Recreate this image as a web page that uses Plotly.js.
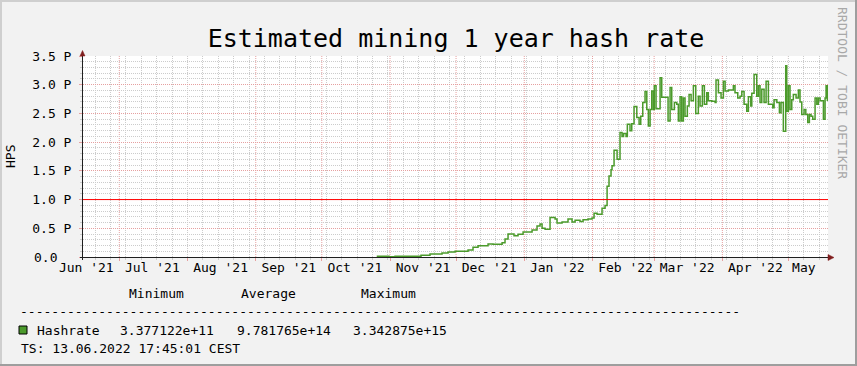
<!DOCTYPE html>
<html><head><meta charset="utf-8">
<script src="https://cdn.plot.ly/plotly-3.0.1.min.js"></script>
<style>html,body{margin:0;padding:0;background:#f2f2f2;}#chart{width:857px;height:366px;}</style>
</head><body><div id="chart"></div>
<script>
const chartTitle = "Estimated mining 1 year hash rate";
const yAxisLabel = "HPS";
// step start times and hash rate (in peta hashes per second)
const sampleTimes = [
"2021-10-25 23:00","2021-10-31 13:00","2021-11-03 07:00","2021-11-15 02:00","2021-11-19 04:00","2021-11-24 15:00",
"2021-11-27 09:00","2021-11-30 13:00","2021-12-06 11:00","2021-12-08 17:00","2021-12-11 00:00","2021-12-15 13:00",
"2021-12-17 19:00","2021-12-21 22:00","2021-12-23 06:00","2021-12-24 15:00","2021-12-27 08:00","2021-12-29 04:00",
"2021-12-31 11:00","2022-01-04 13:00","2022-01-06 19:00","2022-01-08 04:00","2022-01-09 02:00","2022-01-10 11:00",
"2022-01-12 17:00","2022-01-15 00:00","2022-01-15 21:00","2022-01-18 04:00","2022-01-20 21:00","2022-01-22 17:00",
"2022-01-24 02:00","2022-01-26 08:00","2022-01-27 17:00","2022-01-29 23:00","2022-01-31 19:00","2022-02-01 17:00",
"2022-02-03 02:00","2022-02-05 08:00","2022-02-06 17:00","2022-02-07 15:00","2022-02-08 12:00","2022-02-09 10:00",
"2022-02-09 21:00","2022-02-10 19:00","2022-02-12 04:00","2022-02-13 12:00","2022-02-14 10:00","2022-02-15 03:00",
"2022-02-16 06:00","2022-02-16 20:00","2022-02-18 01:00","2022-02-18 20:00","2022-02-19 21:00","2022-02-21 03:00",
"2022-02-22 04:00","2022-02-22 22:00","2022-02-23 20:00","2022-02-24 21:00","2022-02-25 16:00","2022-02-26 09:00",
"2022-02-27 04:00","2022-02-27 22:00","2022-02-28 16:00","2022-03-01 02:00","2022-03-01 21:00","2022-03-03 17:00",
"2022-03-04 11:00","2022-03-07 08:00","2022-03-08 06:00","2022-03-09 00:00","2022-03-10 05:00","2022-03-11 07:00",
"2022-03-12 00:00","2022-03-12 19:00","2022-03-13 13:00","2022-03-14 07:00","2022-03-15 01:00","2022-03-16 02:00",
"2022-03-16 21:00","2022-03-17 19:00","2022-03-18 20:00","2022-03-19 22:00","2022-03-21 02:00","2022-03-21 21:00",
"2022-03-22 22:00","2022-03-23 20:00","2022-03-24 22:00","2022-03-25 15:00","2022-03-27 05:00","2022-03-28 17:00",
"2022-03-29 03:00","2022-03-30 05:00","2022-03-31 10:00","2022-04-01 11:00","2022-04-02 06:00","2022-04-03 18:00",
"2022-04-06 00:00","2022-04-06 18:00","2022-04-08 00:00","2022-04-09 01:00","2022-04-09 20:00","2022-04-10 21:00",
"2022-04-12 02:00","2022-04-12 20:00","2022-04-13 22:00","2022-04-14 09:00","2022-04-15 10:00","2022-04-16 15:00",
"2022-04-17 09:00","2022-04-18 03:00","2022-04-18 22:00","2022-04-19 23:00","2022-04-20 21:00","2022-04-21 22:00",
"2022-04-23 22:00","2022-04-24 12:00","2022-04-25 18:00","2022-04-26 22:00","2022-04-27 16:00","2022-04-28 17:00",
"2022-04-29 19:00","2022-04-30 06:00","2022-05-01 00:00","2022-05-01 18:00","2022-05-02 13:00","2022-05-03 06:00",
"2022-05-04 12:00","2022-05-05 13:00","2022-05-06 07:00","2022-05-07 02:00","2022-05-08 03:00","2022-05-08 22:00",
"2022-05-09 19:00","2022-05-10 13:00","2022-05-11 07:00","2022-05-12 02:00","2022-05-13 03:00","2022-05-13 22:00",
"2022-05-14 15:00","2022-05-15 10:00","2022-05-16 22:00","2022-05-17 16:00","2022-05-18 03:00","2022-05-18 17:00",
"2022-05-19 00:00"];
const hashrateP = [
0.012,0.003,0.012,0.030,0.052,0.070,
0.087,0.100,0.122,0.170,0.197,0.227,
0.222,0.250,0.314,0.401,0.372,0.396,
0.436,0.471,0.541,0.576,0.500,0.484,
0.688,0.660,0.590,0.610,0.663,0.610,
0.640,0.620,0.650,0.663,0.680,0.760,
0.745,0.850,0.895,1.230,1.410,1.520,
1.590,1.860,1.700,2.170,2.100,2.150,
2.100,2.310,2.200,2.320,2.620,2.430,
2.310,2.450,2.690,2.880,2.570,2.280,
2.570,2.890,2.570,2.980,2.580,3.120,
2.780,2.370,2.950,2.570,2.690,2.660,
2.370,2.790,2.370,2.770,2.450,2.630,
2.830,2.720,2.980,2.500,2.800,2.630,
2.980,2.660,2.860,2.720,2.710,2.690,
3.080,2.860,2.770,3.060,2.890,2.910,
2.980,2.860,2.770,2.800,2.880,2.660,
2.540,2.790,2.630,2.850,3.180,2.800,
2.980,2.690,2.920,2.690,3.060,2.660,
2.600,2.740,2.690,2.510,2.690,2.190,
3.330,2.540,2.980,2.570,2.740,2.830,
2.770,2.910,2.700,2.480,2.570,2.480,
2.340,2.480,2.450,2.400,2.770,2.660,
2.770,2.720,2.400,2.770,2.980,2.730,
2.730];
const xRange = ["2021-06-14 12:00", "2022-05-19 00:00"];
const monthGridDates = ["2021-07-01","2021-08-01","2021-09-01","2021-10-01","2021-11-01","2021-12-01",
  "2022-01-01","2022-02-01","2022-03-01","2022-04-01","2022-05-01"];
const weekGridStart = "2021-06-20";
const monthLabelDates = ["2021-06-16","2021-07-16","2021-08-16","2021-09-16","2021-10-16","2021-11-16",
  "2021-12-16","2022-01-16","2022-02-16","2022-03-16","2022-04-16","2022-05-08"];
const monthLabels = ["Jun '21","Jul '21","Aug '21","Sep '21","Oct '21","Nov '21",
  "Dec '21","Jan '22","Feb '22","Mar '22","Apr '22","May"];
const yTickVals = [0, 0.5, 1.0, 1.5, 2.0, 2.5, 3.0, 3.5];
const yTickText = ["0.0", "0.5 P", "1.0 P", "1.5 P", "2.0 P", "2.5 P", "3.0 P", "3.5 P"];
const yMinorStep = 0.1;
const hruleValue = 1.0;
const legendHeaders = ["Minimum", "Average", "Maximum"];
const seriesName = "Hashrate";
const legendStats = ["3.377122e+11", "9.781765e+14", "3.342875e+15"];
const timestampText = "TS: 13.06.2022 17:45:01 CEST";
const watermarkText = "RRDTOOL / TOBI OETIKER";

// weekly minor grid positions (every 7 days)
const weekGridDates = [];
for (let t = Date.parse(weekGridStart + "T00:00:00Z"); t < Date.parse("2022-05-19T00:00:00Z"); t += 7 * 86400000) {
  weekGridDates.push(new Date(t).toISOString().slice(0, 10));
}

// ---- geometry (pixels) ----
const CW = 857, CH = 366, PL = 83, PR = 828, PT = 56, PB = 257;
const px = p => (p - PL) / (PR - PL);
const py = p => (PB - p) / (PB - PT);
const FONT = "DejaVu Sans Mono";
const GREEN = "#4b9a2b";
const MGRID = "#e6a0a0";
const GRID = "#cccccc";

const traces = [
  {x: sampleTimes, y: hashrateP, type: "scatter", mode: "lines",
   line: {shape: "hv", color: GREEN, width: 1.5}, hoverinfo: "skip", showlegend: false},
  {x: [xRange[0]], y: [null], xaxis: "x3", type: "scatter", mode: "lines", hoverinfo: "skip", showlegend: false},
  {x: [xRange[0]], y: [null], xaxis: "x2", type: "scatter", mode: "lines", hoverinfo: "skip", showlegend: false}
];

function rectPx(x0, y0, x1, y1, color) {
  return {type: "rect", xref: "paper", yref: "paper", x0: px(x0), x1: px(x1), y0: py(y0), y1: py(y1),
          fillcolor: color, line: {width: 0}, layer: "above"};
}
function linePx(x0, y0, x1, y1, color, w) {
  return {type: "line", xref: "paper", yref: "paper", x0: px(x0), x1: px(x1), y0: py(y0), y1: py(y1),
          line: {color: color, width: w}, layer: "above"};
}
function pathPx(pts, color) {
  const d = pts.map((p, i) => (i ? "L" : "M") + px(p[0]) + "," + py(p[1])).join(" ") + " Z";
  return {type: "path", xref: "paper", yref: "paper", path: d, fillcolor: color, line: {color: color, width: 0.5}, layer: "above"};
}

// month (major) vertical grid lines, dotted, below the data line
const monthGridShapes = monthGridDates.map(d => ({
  type: "line", xref: "x", x0: d, x1: d, yref: "paper", y0: 0, y1: 1,
  line: {color: MGRID, width: 1, dash: "1px,1px"}, layer: "below"
}));

const shapes = monthGridShapes.concat([
  {type: "line", xref: "paper", x0: 0, x1: 1, yref: "y", y0: hruleValue, y1: hruleValue,
   line: {color: "#ff0000", width: 1}, layer: "above"},
  // axes
  linePx(80, 257.5, 829, 257.5, "#1f1f1f", 1),
  linePx(82.5, 260, 82.5, 55, "#1f1f1f", 1),
  pathPx([[828, 254.5], [834, 257.5], [828, 260.5]], "#801f1f"),
  pathPx([[80, 56], [82.5, 50.5], [85, 56]], "#801f1f"),
  // frame
  rectPx(0, 0, CW, 2, "#cfcfcf"),
  rectPx(0, 0, 2, CH, "#cfcfcf"),
  rectPx(0, CH - 2, CW, CH, "#9e9e9e"),
  rectPx(CW - 2, 0, CW, CH, "#9e9e9e"),
  // legend colour box
  {type: "rect", xref: "paper", yref: "paper", x0: px(19), x1: px(27), y0: py(326), y1: py(334),
   fillcolor: GREEN, line: {color: "#000", width: 1}, layer: "above"}
]);

function ann(text, x, y, opts) {
  return Object.assign({text: text, xref: "paper", yref: "paper", x: px(x), y: py(y), showarrow: false,
    xanchor: "left", yanchor: "middle", borderpad: 0, font: {family: FONT, size: 13, color: "#000"}}, opts || {});
}
const annotations = [
  ann(yTickText[0], 32.5, 257),
  ann(yAxisLabel, 10, 157, {xanchor: "center", textangle: -90}),
  ann(legendHeaders[0], 127.5, 293.5),
  ann(legendHeaders[1], 239.5, 293.5),
  ann(legendHeaders[2], 359.5, 293.5),
  ann("-".repeat(92), 19, 311.5),
  ann(seriesName, 35.5, 330),
  ann(legendStats[0], 118.5, 330),
  ann(legendStats[1], 235.5, 330),
  ann(legendStats[2], 352, 330),
  ann(timestampText, 19.5, 348),
  ann(watermarkText, 843, 93, {xanchor: "center", textangle: 90, font: {family: FONT, size: 13, color: "#a8a8a8"}})
];

const layout = {
  width: CW, height: CH,
  margin: {l: PL, r: CW - PR, t: PT, b: CH - PB, pad: 0},
  paper_bgcolor: "#f2f2f2", plot_bgcolor: "#ffffff",
  font: {family: FONT, size: 13, color: "#000"},
  title: {text: chartTitle, x: 456 / CW, xanchor: "center", y: 1 - 38 / CH, yanchor: "middle", yref: "container",
          font: {family: FONT, size: 25, color: "#000"}},
  showlegend: false,
  xaxis: {type: "date", range: xRange, tickmode: "array", tickvals: weekGridDates,
          ticktext: weekGridDates.map(() => ""), showgrid: true, gridcolor: GRID, griddash: "1px,1px", gridwidth: 1,
          ticks: "outside", ticklen: 2, tickcolor: GRID, showline: false, zeroline: false, fixedrange: true},
  xaxis3: {type: "date", overlaying: "x", range: xRange, anchor: "y", side: "bottom", tickmode: "array",
           tickvals: monthGridDates, ticktext: monthGridDates.map(() => ""), showgrid: false,
           ticks: "outside", ticklen: 3, tickcolor: MGRID, showline: false, zeroline: false},
  xaxis2: {type: "date", overlaying: "x", range: xRange, anchor: "y", side: "bottom", tickmode: "array",
           tickvals: monthLabelDates, ticktext: monthLabels, showgrid: false, ticks: "", showline: false,
           zeroline: false, tickfont: {family: FONT, size: 13, color: "#000"}, ticklabelstandoff: 1},
  yaxis: {range: [0, 3.5], tickmode: "array", tickvals: yTickVals,
          ticktext: yTickText.map((t, i) => i === 0 ? "" : t),
          showgrid: true, gridcolor: MGRID, griddash: "1px,1px", ticks: "outside", ticklen: 3, tickcolor: MGRID,
          showline: false, zeroline: false, fixedrange: true, ticklabelstandoff: 5,
          tickfont: {family: FONT, size: 13, color: "#000"},
          minor: {dtick: yMinorStep, tick0: 0, showgrid: true, gridcolor: GRID, griddash: "1px,1px",
                  ticks: "outside", ticklen: 2, tickcolor: GRID}},
  shapes: shapes,
  annotations: annotations
};

Plotly.newPlot("chart", traces, layout, {displayModeBar: false, staticPlot: true});
</script>
</body></html>
